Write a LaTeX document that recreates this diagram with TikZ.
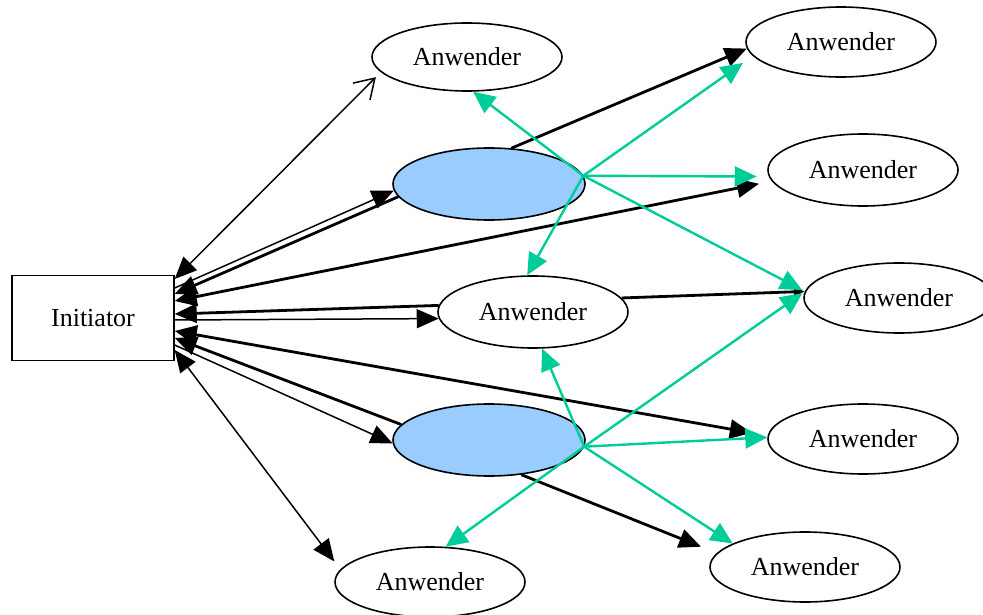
\documentclass[tikz,border=0pt]{standalone}
\usepackage{fontspec}
\setmainfont{Liberation Serif}
\usetikzlibrary{arrows.meta,shapes.geometric,calc}
\definecolor{grn}{RGB}{0,204,153}
\definecolor{lblue}{RGB}{153,204,255}
\tikzset{
  tri/.tip={Triangle[length=22pt,width=19pt]},
  smalltri/.tip={Triangle[length=11pt,width=9pt]},
  barb/.tip={Straight Barb[length=19pt,width=24pt]},
  gtri/.tip={Triangle[length=22pt,width=20pt]},
}
\begin{document}
\begin{tikzpicture}[x=1pt,y=-1pt,
  every node/.style={font=\fontsize{26}{30}\selectfont},
  anw/.style={draw, ellipse, line width=1.6pt, minimum width=190pt, minimum height=70pt, inner sep=0pt},
  hubnode/.style={anw, fill=lblue, minimum width=192pt, minimum height=72pt},
  blk/.style={line width=2.8pt},
  thn/.style={line width=1.5pt},
  grl/.style={line width=2.4pt, color=grn, -gtri}]
\useasboundingbox (0,0) rectangle (983,615);
\node[draw, line width=1.4pt, minimum width=162pt, minimum height=85pt, inner sep=0pt] (init) at (93,318) {Initiator};
\node[anw, minimum height=68pt] (a1) at (467,57) {Anwender};
\node[anw] (a2) at (841,42) {Anwender};
\node[anw, minimum height=72pt] (a3) at (863,170) {Anwender};
\node[anw] (a4) at (899,298) {Anwender};
\node[anw] (a5) at (863,439) {Anwender};
\node[anw] (a6) at (805,567) {Anwender};
\node[anw] (a7) at (430,582) {Anwender};
\node[anw, minimum height=72pt] (a8) at (533,312) {Anwender};
\node[hubnode] (b1) at (489,184) {};
\node[hubnode] (b2) at (489,440) {};
\coordinate (g1) at (b1.5);
\coordinate (g2) at (b2.-4);
% black connectors
\draw[thn, tri-barb, shorten >=7pt] ([yshift=39pt]init.east) -- (a1.190);
\draw[thn, -tri] ([yshift=30pt]init.east) -- (b1.184);
\draw[blk, -tri] (b1.188) -- ([yshift=24pt]init.east);
\draw[blk, -tri] (b1.58) -- (a2.184);
\draw[blk, tri-tri, shorten >=13pt] ([yshift=17pt]init.east) -- (a3.187);
\draw[blk, -tri] (a8.176) -- ([yshift=4pt]init.east);
\draw[thn, -tri] ([yshift=-2pt]init.east) -- (a8.184);
\draw[blk, -smalltri] (a8.9) -- (a4.176);
\draw[blk, tri-tri, shorten >=16pt] ([yshift=-13pt]init.east) -- (a5.178);
\draw[blk, -tri] (b2.170) -- ([yshift=-20pt]init.east);
\draw[thn, -tri] ([yshift=-27pt]init.east) -- (b2.182);
\draw[blk, -tri, shorten >=17pt] (b2.-47) -- (a6.171);
\draw[thn, tri-tri, shorten >=10pt] ([yshift=-32pt]init.east) -- (a7.172);
% green connectors
\draw[grl] (g1) -- (a1.-80);
\draw[grl, shorten >=12pt] (g1) -- (a2.189);
\draw[grl, shorten >=12pt] (g1) -- (a3.184);
\draw[grl, shorten >=3pt] (g1) -- (a4.176);
\draw[grl] (g1) -- (a8.99);
\draw[grl] (g2) -- (a8.-76);
\draw[grl, shorten >=3pt] (g2) -- (a4.176);
\draw[grl] (g2) -- (a5.179);
\draw[grl] (g2) -- (a6.162);
\draw[grl] (g2) -- (a7.66);
\end{tikzpicture}
\end{document}
